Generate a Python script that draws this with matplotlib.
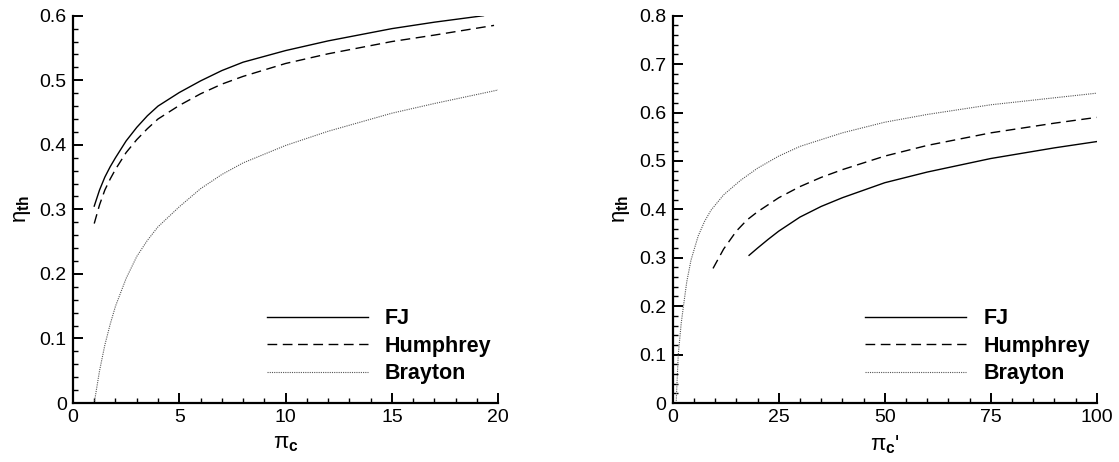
import matplotlib.pyplot as plt
from matplotlib.ticker import MultipleLocator

plt.rcParams['font.family'] = ['Liberation Sans', 'DejaVu Sans']
plt.rcParams['mathtext.fontset'] = 'custom'
plt.rcParams['mathtext.rm'] = 'Liberation Sans'
plt.rcParams['mathtext.it'] = 'Liberation Sans'
plt.rcParams['mathtext.bf'] = 'Liberation Sans:bold'

# left panel: eta_th vs pi_c
fj_x1 = [1, 1.25, 1.5, 1.75, 2, 2.5, 3, 3.5, 4, 5, 6, 7, 8, 10, 12, 15, 17, 19.3]
fj_y1 = [0.305, 0.33, 0.35, 0.366, 0.38, 0.406, 0.427, 0.445, 0.46, 0.481, 0.499, 0.515, 0.528, 0.546, 0.561, 0.58, 0.59, 0.6]
hu_x1 = [1, 1.25, 1.5, 1.75, 2, 2.5, 3, 3.5, 4, 5, 6, 7, 8, 10, 12, 15, 17, 19.8]
hu_y1 = [0.278, 0.307, 0.33, 0.347, 0.362, 0.388, 0.408, 0.425, 0.44, 0.461, 0.479, 0.494, 0.506, 0.526, 0.541, 0.56, 0.57, 0.585]
br_x1 = [1, 1.25, 1.5, 1.75, 2, 2.5, 3, 3.5, 4, 5, 6, 7, 8, 10, 12, 15, 17, 20]
br_y1 = [0, 0.05, 0.09, 0.122, 0.15, 0.193, 0.227, 0.252, 0.273, 0.304, 0.332, 0.354, 0.372, 0.399, 0.421, 0.449, 0.464, 0.485]

# right panel: eta_th vs pi_c'
fj_x2 = [18, 20, 22.5, 25, 30, 35, 40, 50, 60, 75, 90, 100]
fj_y2 = [0.305, 0.32, 0.338, 0.355, 0.384, 0.406, 0.424, 0.455, 0.477, 0.505, 0.527, 0.54]
hu_x2 = [9.5, 12, 15, 17.5, 20, 25, 30, 35, 40, 50, 60, 75, 90, 100]
hu_y2 = [0.278, 0.318, 0.355, 0.378, 0.395, 0.424, 0.447, 0.466, 0.482, 0.51, 0.532, 0.558, 0.578, 0.59]
br_x2 = [0.8, 1.3, 2, 2.6, 3.3, 4.3, 6, 7.5, 9, 12, 16, 20, 25, 30, 40, 50, 60, 75, 100]
br_y2 = [0, 0.1, 0.165, 0.205, 0.25, 0.295, 0.345, 0.375, 0.398, 0.43, 0.46, 0.485, 0.51, 0.53, 0.558, 0.58, 0.596, 0.616, 0.64]

labels = ['FJ', 'Humphrey', 'Brayton']

fig = plt.figure(figsize=(11.19, 4.62), dpi=100)
ax1 = fig.add_axes([0.0652, 0.1277, 0.3801, 0.8383])
ax2 = fig.add_axes([0.6012, 0.1277, 0.3789, 0.8383])


def style(ax, xmax, xmaj, xmin, ymax):
    ax.set_xlim(0, xmax)
    ax.set_ylim(0, ymax)
    ax.xaxis.set_major_locator(MultipleLocator(xmaj))
    ax.xaxis.set_minor_locator(MultipleLocator(xmin))
    ax.yaxis.set_major_locator(MultipleLocator(0.1))
    ax.yaxis.set_minor_locator(MultipleLocator(0.02))
    ax.spines['top'].set_visible(False)
    ax.spines['right'].set_visible(False)
    for s in ['left', 'bottom']:
        ax.spines[s].set_linewidth(1.6)
    ax.tick_params(which='major', direction='in', length=7, width=1.4, labelsize=14, pad=4.5)
    ax.tick_params(which='minor', direction='in', length=3.5, width=1)
    ax.yaxis.set_major_formatter(plt.FuncFormatter(lambda v, p: '0' if v == 0 else f'{v:.1f}'))


for ax, d, xmax, xmaj, xmin, ymax, xl in [
        (ax1, (fj_x1, fj_y1, hu_x1, hu_y1, br_x1, br_y1), 20, 5, 1, 0.6, r'$\pi_{\mathbf{c}}$'),
        (ax2, (fj_x2, fj_y2, hu_x2, hu_y2, br_x2, br_y2), 100, 25, 5, 0.8, r"$\pi_{\mathbf{c}}$'")]:
    ax.plot(d[0], d[1], color='black', lw=1.0, label=labels[0])
    ax.plot(d[2], d[3], color='black', lw=1.0, ls=(0, (7, 4)), label=labels[1])
    ax.plot(d[4], d[5], color='#555555', lw=0.8, ls=(0, (1, 1)), label=labels[2])
    style(ax, xmax, xmaj, xmin, ymax)
    ax.set_xlabel(xl, fontsize=16, labelpad=5)
    ax.set_ylabel(r'$\eta_{\mathbf{th}}$', fontsize=16, labelpad=5)
    leg = ax.legend(loc='lower right', bbox_to_anchor=(1.03, -0.002), frameon=False,
                    handlelength=4.7, handletextpad=0.8, labelspacing=0.3,
                    prop={'size': 15.5, 'weight': 'bold'})

fig.savefig('out.png', dpi=100)
